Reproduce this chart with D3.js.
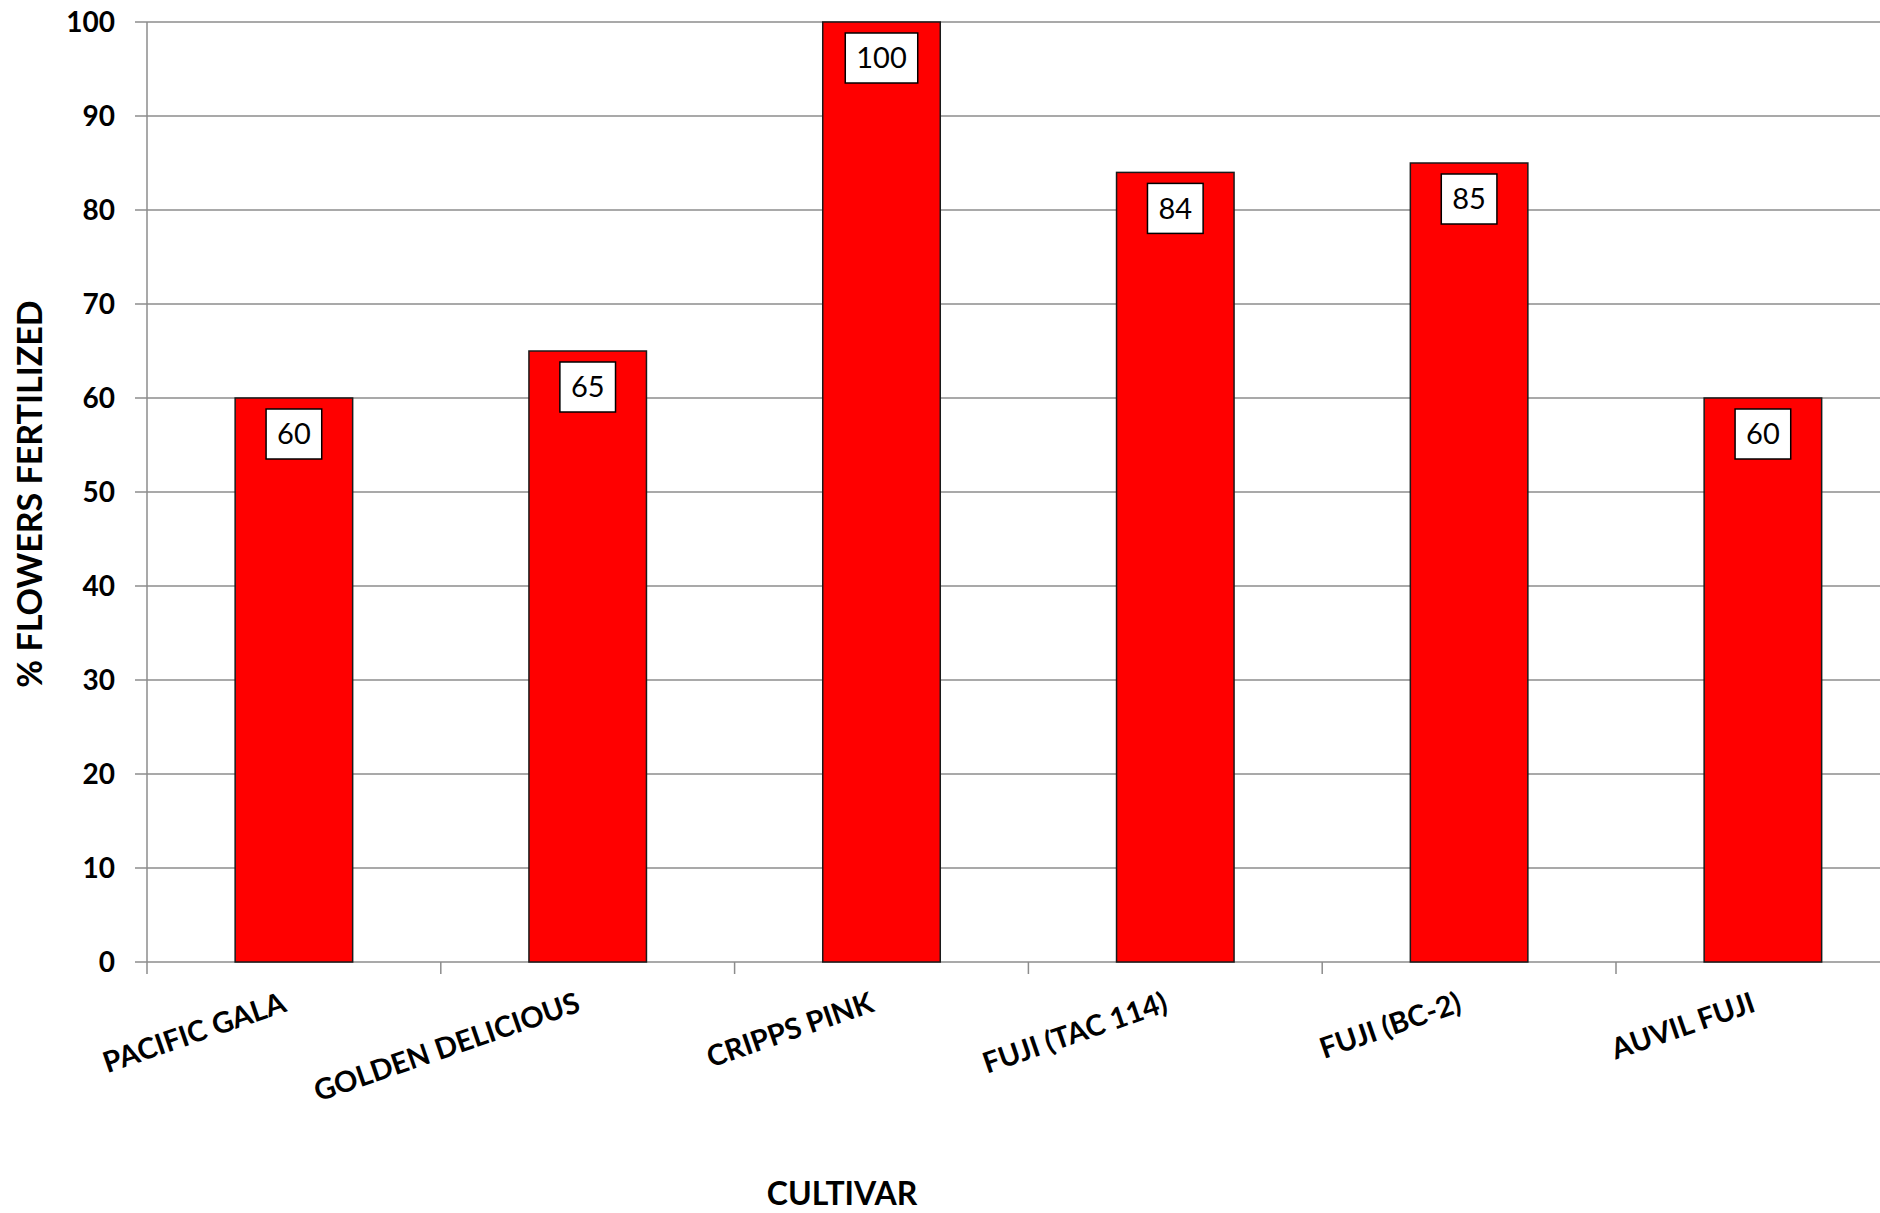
<!DOCTYPE html>
<html>
<head>
<meta charset="utf-8">
<script src="https://cdn.jsdelivr.net/npm/d3@7"></script>
<style>
  body { margin: 0; background: #fff; }
  svg text { font-family: Lato, "Open Sans", sans-serif; font-weight: bold; fill: #000; }
</style>
</head>
<body>
<svg id="chart" width="1880" height="1213"></svg>
<script>
// chart data
let cultivars = ['PACIFIC GALA', 'GOLDEN DELICIOUS', 'CRIPPS PINK', 'FUJI (TAC 114)', 'FUJI (BC-2)', 'AUVIL FUJI'];
let fertilized = [60, 65, 100, 84, 85, 60];
let yTicks = [0, 10, 20, 30, 40, 50, 60, 70, 80, 90, 100];

let svg = d3.select('#chart');

// plot area (runs off the right edge like the original)
let plotLeft = 147, plotTop = 22, plotBottom = 962;
let bandW = 293.8;

let xScale = d3.scaleBand()
  .domain(cultivars)
  .range([plotLeft, plotLeft + bandW * cultivars.length])
  .padding(0);

let yScale = d3.scaleLinear()
  .domain([0, 100])
  .range([plotBottom, plotTop]);

// horizontal gridlines + y ticks
svg.append('g')
  .selectAll('line')
  .data(yTicks)
  .enter()
  .append('line')
  .attr('x1', plotLeft - 12)
  .attr('x2', 1880)
  .attr('y1', d => yScale(d))
  .attr('y2', d => yScale(d))
  .style('stroke', '#8c8c8c')
  .style('stroke-width', 1.5);

svg.append('g')
  .selectAll('text')
  .data(yTicks)
  .enter()
  .append('text')
  .attr('x', 115)
  .attr('y', d => yScale(d))
  .attr('dy', '0.35em')
  .style('text-anchor', 'end')
  .style('font-size', '28px')
  .text(d => d);

// y axis line
svg.append('line')
  .attr('x1', plotLeft).attr('x2', plotLeft)
  .attr('y1', plotTop).attr('y2', plotBottom)
  .style('stroke', '#8c8c8c')
  .style('stroke-width', 1.5);

// x tick marks at band boundaries
svg.append('g')
  .selectAll('line')
  .data(cultivars)
  .enter()
  .append('line')
  .attr('x1', d => xScale(d))
  .attr('x2', d => xScale(d))
  .attr('y1', plotBottom)
  .attr('y2', plotBottom + 12)
  .style('stroke', '#8c8c8c')
  .style('stroke-width', 1.5);

// bars
let barW = xScale.bandwidth() * 0.4;
let rows = cultivars.map((c, i) => ({ name: c, value: fertilized[i] }));

svg.append('g')
  .selectAll('rect')
  .data(rows)
  .enter()
  .append('rect')
  .attr('x', d => xScale(d.name) + xScale.bandwidth() / 2 - barW / 2)
  .attr('y', d => yScale(d.value))
  .attr('width', barW)
  .attr('height', d => plotBottom - yScale(d.value))
  .style('fill', '#ff0000')
  .style('stroke', '#1a1a1a')
  .style('stroke-width', 1.5);

// value label boxes
let labels = svg.append('g')
  .selectAll('g')
  .data(rows)
  .enter()
  .append('g')
  .attr('transform', d => 'translate(' + (xScale(d.name) + xScale.bandwidth() / 2) + ',' + (yScale(d.value) + 11) + ')');

labels.append('text')
  .attr('x', 0)
  .attr('y', 25)
  .attr('dy', '0.35em')
  .style('text-anchor', 'middle')
  .style('font-size', '29px')
  .style('font-weight', 'normal')
  .text(d => d.value);

labels.each(function() {
  let g = d3.select(this);
  let w = g.select('text').node().getComputedTextLength() + 22;
  g.insert('rect', 'text')
    .attr('x', -w / 2)
    .attr('y', 0)
    .attr('width', w)
    .attr('height', 50)
    .style('fill', '#fff')
    .style('stroke', '#000')
    .style('stroke-width', 1.5);
});

// category labels, rotated
svg.append('g')
  .selectAll('text')
  .data(cultivars)
  .enter()
  .append('text')
  .attr('transform', d => 'translate(' + (xScale(d) + xScale.bandwidth() / 2 - 6) + ',' + 1011 + ') rotate(-19)')
  .style('text-anchor', 'end')
  .style('font-size', '29px')
  .text(d => d);

// axis titles
svg.append('text')
  .attr('x', 842)
  .attr('y', 1205)
  .style('text-anchor', 'middle')
  .style('font-size', '32px')
  .text('CULTIVAR');

svg.append('text')
  .attr('transform', 'translate(42,494) rotate(-90)')
  .style('text-anchor', 'middle')
  .style('font-size', '34px')
  .text('% FLOWERS FERTILIZED');
</script>
</body>
</html>
